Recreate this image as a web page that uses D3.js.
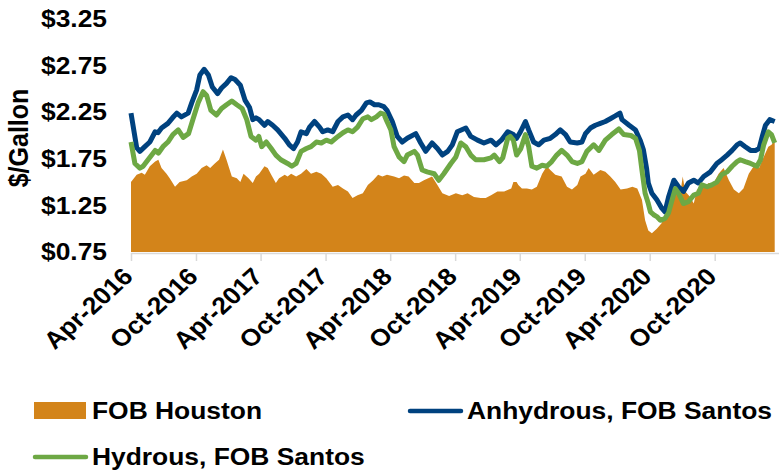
<!DOCTYPE html>
<html><head><meta charset="utf-8">
<script src="https://cdn.jsdelivr.net/npm/d3@7"></script>
<style>
body{margin:0;background:#fff}
svg text{font-family:"Liberation Sans",Arial,Helvetica,sans-serif;font-weight:bold;fill:#000}
</style>
</head><body>
<svg id="chart" width="779" height="474"></svg>
<script>
// ---------- DATA ----------
const houstonDates = ["2016-04-01","2016-04-17","2016-05-01","2016-05-10","2016-05-24","2016-06-08","2016-06-17","2016-06-26","2016-07-10","2016-07-19","2016-08-03","2016-08-16","2016-09-05","2016-09-19","2016-10-03","2016-10-17","2016-10-31","2016-11-10","2016-11-23","2016-12-05","2016-12-16","2016-12-26","2017-01-10","2017-01-24","2017-02-03","2017-02-12","2017-02-26","2017-03-10","2017-03-19","2017-03-28","2017-04-12","2017-04-21","2017-05-01","2017-05-14","2017-05-23","2017-06-08","2017-06-16","2017-06-26","2017-07-10","2017-07-24","2017-08-08","2017-08-21","2017-09-05","2017-09-19","2017-10-03","2017-10-21","2017-11-05","2017-11-19","2017-12-03","2017-12-16","2017-12-30","2018-01-14","2018-01-28","2018-02-12","2018-02-26","2018-03-10","2018-03-23","2018-04-12","2018-04-26","2018-05-10","2018-05-23","2018-06-08","2018-06-21","2018-07-05","2018-07-28","2018-08-12","2018-08-26","2018-09-14","2018-10-03","2018-10-21","2018-11-05","2018-11-23","2018-12-12","2018-12-26","2019-01-10","2019-01-28","2019-02-16","2019-03-01","2019-03-08","2019-03-14","2019-03-23","2019-03-28","2019-04-07","2019-04-21","2019-05-05","2019-05-19","2019-06-03","2019-06-16","2019-06-26","2019-07-10","2019-07-28","2019-08-12","2019-08-26","2019-09-10","2019-09-19","2019-10-03","2019-10-12","2019-10-26","2019-11-14","2019-11-28","2019-12-12","2019-12-26","2020-01-10","2020-01-28","2020-02-12","2020-02-26","2020-03-10","2020-03-19","2020-03-28","2020-04-07","2020-04-21","2020-05-05","2020-05-12","2020-06-03","2020-06-16","2020-06-26","2020-07-03","2020-07-10","2020-07-24","2020-08-03","2020-08-12","2020-08-26","2020-09-14","2020-09-28","2020-10-12","2020-10-26","2020-11-10","2020-11-24","2020-12-08","2020-12-21","2021-01-05","2021-01-19","2021-02-03","2021-02-16","2021-03-01","2021-03-10","2021-03-19"];
const houstonValues = [1.50,1.58,1.60,1.58,1.67,1.72,1.74,1.65,1.59,1.54,1.45,1.50,1.52,1.56,1.59,1.65,1.68,1.65,1.70,1.74,1.85,1.74,1.56,1.54,1.50,1.59,1.54,1.49,1.56,1.59,1.67,1.65,1.58,1.49,1.54,1.58,1.56,1.59,1.56,1.59,1.64,1.59,1.61,1.59,1.54,1.45,1.47,1.43,1.40,1.33,1.36,1.38,1.47,1.52,1.58,1.56,1.58,1.56,1.54,1.57,1.56,1.49,1.49,1.52,1.56,1.47,1.38,1.35,1.38,1.36,1.38,1.34,1.33,1.33,1.36,1.40,1.40,1.42,1.43,1.50,1.50,1.47,1.43,1.43,1.42,1.45,1.59,1.67,1.63,1.58,1.56,1.45,1.42,1.47,1.56,1.59,1.65,1.58,1.63,1.61,1.56,1.50,1.42,1.43,1.45,1.43,1.31,1.09,0.98,0.95,1.00,1.06,1.13,1.27,1.42,1.38,1.56,1.40,1.34,1.27,1.42,1.43,1.49,1.49,1.59,1.65,1.52,1.42,1.38,1.43,1.59,1.67,1.65,1.77,1.88,1.90,1.95];

const anhydrousDates = ["2016-04-01","2016-04-17","2016-04-26","2016-05-10","2016-05-24","2016-06-08","2016-06-16","2016-06-26","2016-07-14","2016-07-27","2016-08-08","2016-08-21","2016-09-09","2016-09-19","2016-10-03","2016-10-12","2016-10-24","2016-11-05","2016-11-16","2016-12-01","2016-12-12","2016-12-26","2017-01-08","2017-01-19","2017-02-03","2017-02-16","2017-03-01","2017-03-10","2017-03-19","2017-03-28","2017-04-12","2017-04-21","2017-05-05","2017-05-19","2017-06-08","2017-06-21","2017-07-03","2017-07-14","2017-07-24","2017-08-08","2017-08-17","2017-08-31","2017-09-14","2017-09-23","2017-10-07","2017-10-21","2017-11-05","2017-11-19","2017-12-03","2017-12-16","2017-12-26","2018-01-10","2018-01-24","2018-02-03","2018-02-16","2018-02-28","2018-03-14","2018-03-23","2018-04-07","2018-04-21","2018-05-05","2018-05-19","2018-06-12","2018-06-26","2018-07-10","2018-07-28","2018-08-12","2018-08-26","2018-09-10","2018-09-23","2018-10-07","2018-10-31","2018-11-14","2018-12-03","2018-12-21","2019-01-10","2019-01-24","2019-02-08","2019-02-26","2019-03-14","2019-03-23","2019-04-03","2019-04-17","2019-04-26","2019-05-10","2019-05-24","2019-06-08","2019-06-26","2019-07-10","2019-07-24","2019-08-08","2019-08-21","2019-09-10","2019-09-23","2019-10-03","2019-10-17","2019-10-31","2019-11-14","2019-11-28","2019-12-12","2019-12-26","2020-01-08","2020-01-14","2020-02-03","2020-02-21","2020-03-05","2020-03-14","2020-03-23","2020-03-28","2020-04-07","2020-04-21","2020-05-05","2020-05-14","2020-05-24","2020-06-08","2020-06-21","2020-07-05","2020-07-19","2020-08-03","2020-08-16","2020-08-31","2020-09-19","2020-10-07","2020-10-21","2020-11-05","2020-11-19","2020-12-03","2020-12-12","2020-12-26","2021-01-10","2021-01-24","2021-02-03","2021-02-12","2021-02-21","2021-03-05","2021-03-19"];
const anhydrousValues = [2.24,1.87,1.83,1.88,1.93,2.04,2.03,2.08,2.13,2.19,2.24,2.20,2.24,2.35,2.49,2.65,2.71,2.65,2.52,2.45,2.51,2.56,2.62,2.60,2.54,2.38,2.30,2.17,2.19,2.17,2.11,2.15,2.11,2.06,1.97,1.90,1.86,1.93,2.04,2.02,2.09,2.15,2.09,2.04,2.06,2.04,2.15,2.20,2.22,2.17,2.22,2.27,2.35,2.36,2.33,2.33,2.31,2.27,2.15,1.99,1.93,1.97,2.02,1.92,1.83,1.92,1.86,1.79,1.83,1.90,2.04,2.08,1.99,1.95,1.92,1.95,1.90,1.95,2.04,2.01,1.97,2.04,2.15,2.06,1.93,1.90,1.95,1.97,2.01,2.06,2.01,1.93,1.92,1.93,2.02,2.08,2.11,2.13,2.15,2.18,2.21,2.24,2.17,2.11,2.06,1.95,1.85,1.65,1.49,1.38,1.31,1.22,1.18,1.34,1.52,1.45,1.40,1.49,1.52,1.49,1.56,1.61,1.70,1.74,1.79,1.84,1.90,1.92,1.88,1.84,1.84,1.86,1.99,2.11,2.17,2.15];

const hydrousDates = ["2016-04-01","2016-04-12","2016-04-26","2016-05-05","2016-05-19","2016-06-08","2016-06-17","2016-06-30","2016-07-14","2016-07-28","2016-08-12","2016-08-26","2016-09-10","2016-09-23","2016-10-07","2016-10-21","2016-10-31","2016-11-12","2016-11-28","2016-12-12","2016-12-26","2017-01-10","2017-01-24","2017-02-08","2017-02-21","2017-03-05","2017-03-19","2017-03-27","2017-04-04","2017-04-17","2017-05-01","2017-05-14","2017-05-28","2017-06-16","2017-06-28","2017-07-10","2017-07-24","2017-08-08","2017-08-21","2017-09-05","2017-09-19","2017-10-03","2017-10-17","2017-11-05","2017-11-19","2017-12-03","2017-12-16","2017-12-30","2018-01-14","2018-01-28","2018-02-07","2018-02-21","2018-03-05","2018-03-14","2018-03-23","2018-04-03","2018-04-12","2018-04-26","2018-05-10","2018-05-19","2018-06-08","2018-06-17","2018-06-30","2018-07-14","2018-08-03","2018-08-16","2018-08-30","2018-09-19","2018-10-03","2018-10-17","2018-10-31","2018-11-14","2018-11-28","2018-12-21","2019-01-10","2019-01-19","2019-02-03","2019-02-12","2019-02-26","2019-03-05","2019-03-14","2019-03-23","2019-04-04","2019-04-17","2019-04-26","2019-05-05","2019-05-19","2019-06-03","2019-06-16","2019-06-30","2019-07-14","2019-07-28","2019-08-12","2019-08-26","2019-09-10","2019-09-23","2019-10-07","2019-10-26","2019-11-10","2019-11-28","2019-12-16","2020-01-05","2020-01-19","2020-02-08","2020-02-21","2020-03-03","2020-03-10","2020-03-19","2020-03-28","2020-04-03","2020-04-12","2020-04-21","2020-05-01","2020-05-14","2020-05-24","2020-06-03","2020-06-12","2020-06-21","2020-07-05","2020-07-19","2020-08-03","2020-08-16","2020-08-26","2020-09-10","2020-09-23","2020-10-07","2020-10-21","2020-11-05","2020-11-19","2020-12-03","2020-12-12","2020-12-26","2021-01-10","2021-01-28","2021-02-07","2021-02-16","2021-03-01","2021-03-10","2021-03-19"];
const hydrousValues = [1.93,1.70,1.65,1.67,1.74,1.84,1.81,1.88,1.93,2.01,2.06,1.98,2.02,2.18,2.35,2.47,2.43,2.27,2.22,2.29,2.33,2.37,2.33,2.29,2.17,1.99,1.95,1.99,1.88,1.93,1.86,1.79,1.74,1.70,1.67,1.70,1.83,1.86,1.88,1.93,1.92,1.95,1.93,1.99,2.03,2.06,2.04,2.09,2.18,2.20,2.17,2.20,2.24,2.23,2.15,2.06,1.88,1.77,1.72,1.79,1.83,1.79,1.63,1.61,1.59,1.52,1.59,1.70,1.77,1.92,1.88,1.79,1.74,1.74,1.76,1.79,1.72,1.76,1.97,1.99,1.95,1.79,1.86,2.01,1.88,1.67,1.65,1.68,1.67,1.72,1.79,1.84,1.79,1.72,1.70,1.72,1.83,1.90,1.84,1.95,2.01,2.07,2.01,2.00,1.97,1.84,1.63,1.38,1.27,1.18,1.15,1.13,1.09,1.11,1.17,1.31,1.43,1.38,1.27,1.29,1.36,1.38,1.47,1.45,1.47,1.50,1.58,1.61,1.67,1.72,1.74,1.72,1.70,1.67,1.74,1.90,2.04,2.01,1.92];

const tickDates = ["2016-04-01","2016-10-01","2017-04-01","2017-10-01","2018-04-01","2018-10-01","2019-04-01","2019-10-01","2020-04-01","2020-10-01"];
const yTicks = [0.75,1.25,1.75,2.25,2.75,3.25];
const seriesNames = ["FOB Houston","Anhydrous, FOB Santos","Hydrous, FOB Santos"];
const colors = ["#D3841A","#00427F","#6DA844"];

// ---------- CHART ----------
const FS = 24, SX = 1.1;
const parse = d3.timeParse("%Y-%m-%d");
const svg = d3.select("#chart");
const x = d3.scaleTime().domain([parse("2016-04-01"), parse("2020-10-01")]).range([131, 714.7]);
const y = d3.scaleLinear().domain([0.75, 3.25]).range([252, 19]);

const houston = houstonDates.map((d,i)=>({date:parse(d), v:houstonValues[i]}));
const anhydrous = anhydrousDates.map((d,i)=>({date:parse(d), v:anhydrousValues[i]}));
const hydrous = hydrousDates.map((d,i)=>({date:parse(d), v:hydrousValues[i]}));

svg.append("path").datum(houston)
  .attr("fill", colors[0])
  .attr("d", d3.area().x(d=>x(d.date)).y0(y(0.75)).y1(d=>y(d.v)));

// x axis
const xAxis = svg.append("g").attr("transform", `translate(0,${y(0.75)+1})`)
  .call(d3.axisBottom(x).tickValues(tickDates.map(parse)).tickSize(8).tickFormat(d3.timeFormat("%b-%Y")));
xAxis.select(".domain").attr("stroke","#D9D9D9").attr("stroke-width",1.5).attr("d","M131,0.5H779");
xAxis.selectAll(".tick line").attr("stroke","#D9D9D9").attr("stroke-width",1.5);
xAxis.selectAll(".tick text")
  .attr("font-size", FS).attr("text-anchor","end").attr("dy",null).attr("y",0)
  .attr("transform",`translate(3,25) scale(${SX},1) rotate(-45)`);

// y axis
const yAxis = svg.append("g").attr("transform","translate(131,0)")
  .call(d3.axisLeft(y).tickValues(yTicks).tickSize(0).tickPadding(0).tickFormat(d3.format("$.2f")));
yAxis.select(".domain").remove();
yAxis.selectAll(".tick text").attr("font-size", FS).attr("x",0)
  .attr("transform",`translate(-24,0) scale(${SX},1)`);

svg.append("text").attr("transform",`translate(28,138) scale(${SX},1) rotate(-90)`)
  .attr("text-anchor","middle").attr("font-size",FS+1).text("$/Gallon");

const line = d3.line().x(d=>x(d.date)).y(d=>y(d.v));
svg.append("path").datum(anhydrous).attr("fill","none").attr("stroke",colors[1])
  .attr("stroke-width",5).attr("stroke-linejoin","round").attr("d",line);
svg.append("path").datum(hydrous).attr("fill","none").attr("stroke",colors[2])
  .attr("stroke-width",5).attr("stroke-linejoin","round").attr("d",line);

// legend
const lg = svg.append("g");
const legText = (tx, ty, s) => lg.append("text")
  .attr("transform",`translate(${tx},${ty}) scale(${SX},1)`).attr("font-size",FS).text(s);
lg.append("rect").attr("x",34).attr("y",402).attr("width",52).attr("height",17).attr("fill",colors[0]);
legText(92, 419, seriesNames[0]);
lg.append("line").attr("x1",410).attr("x2",461).attr("y1",411).attr("y2",411)
  .attr("stroke",colors[1]).attr("stroke-width",4.5).attr("stroke-linecap","round");
legText(467, 419, seriesNames[1]);
lg.append("line").attr("x1",35).attr("x2",86).attr("y1",457).attr("y2",457)
  .attr("stroke",colors[2]).attr("stroke-width",4.5).attr("stroke-linecap","round");
legText(92, 465, seriesNames[2]);
</script>
</body></html>
